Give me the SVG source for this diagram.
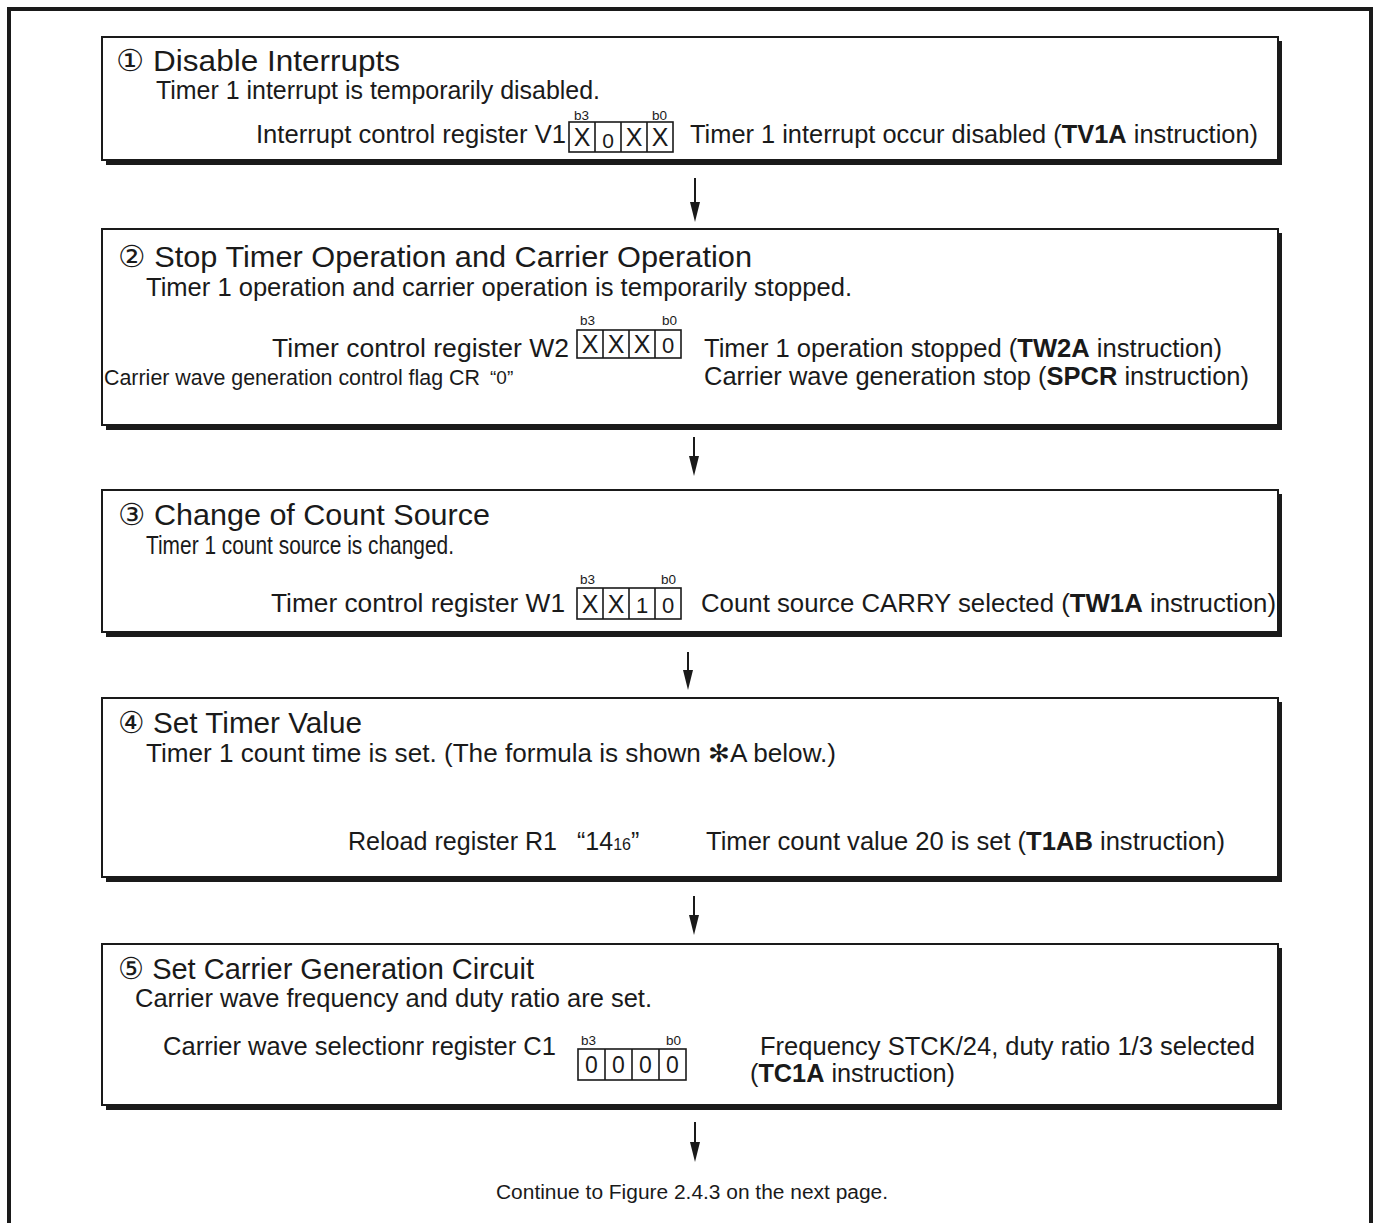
<svg xmlns="http://www.w3.org/2000/svg" width="1378" height="1223" viewBox="0 0 1378 1223">
<style>
text{font-family:"Liberation Sans",Arial,sans-serif;fill:#1a1a1a}
.t{font-size:30px}
.b{font-size:25px}
.s{font-size:13.5px}
.c{font-size:25px;text-anchor:middle}
.bold{font-weight:bold}
.box{fill:#fff;stroke:#1a1a1a;stroke-width:2}
.sh{fill:#1a1a1a}
.cell{fill:none;stroke:#1a1a1a;stroke-width:1.6}
.conn{stroke:#1a1a1a;stroke-width:2;fill:none}
</style>
<defs>
<marker id="ah" markerUnits="userSpaceOnUse" markerWidth="20" markerHeight="10" refX="16" refY="5" orient="auto">
<path d="M0,0 L20,5 L0,10 z" fill="#1a1a1a"/>
</marker>
</defs>
<path d="M9,1223 V9 H1371 V1223" fill="none" stroke="#1a1a1a" stroke-width="4"/>

<g id="step1">
<rect class="sh" x="106" y="41" width="1176" height="124"/>
<rect class="box" x="102" y="37" width="1176" height="123"/>
<text class="t" x="116" y="71" textLength="284" lengthAdjust="spacingAndGlyphs">① Disable Interrupts</text>
<text class="b" x="156" y="99" textLength="444" lengthAdjust="spacingAndGlyphs">Timer 1 interrupt is temporarily disabled.</text>
<text class="b" x="256" y="143" textLength="310" lengthAdjust="spacingAndGlyphs">Interrupt control register V1</text>
<text class="s" x="574" y="120">b3</text>
<text class="s" x="652" y="120">b0</text>
<rect class="cell" x="569" y="122" width="104" height="30"/>
<path class="cell" d="M595,122V152M621,122V152M647,122V152"/>
<text class="c" x="582" y="146">X</text>
<text class="c" x="608" y="148" style="font-size:21px">0</text>
<text class="c" x="634" y="146">X</text>
<text class="c" x="660" y="146">X</text>
<text class="b" x="690" y="143" textLength="568" lengthAdjust="spacingAndGlyphs">Timer 1 interrupt occur disabled (<tspan class="bold">TV1A</tspan> instruction)</text>
</g>

<g id="step2">
<rect class="sh" x="106" y="233" width="1176" height="197"/>
<rect class="box" x="102" y="229" width="1176" height="196"/>
<text class="t" x="118" y="267" textLength="634" lengthAdjust="spacingAndGlyphs">② Stop Timer Operation and Carrier Operation</text>
<text class="b" x="146" y="296" textLength="706" lengthAdjust="spacingAndGlyphs">Timer 1 operation and carrier operation is temporarily stopped.</text>
<text class="s" x="580" y="325">b3</text>
<text class="s" x="662" y="325">b0</text>
<rect class="cell" x="577" y="330" width="104" height="28"/>
<path class="cell" d="M603,330V358M629,330V358M655,330V358"/>
<text class="c" x="590" y="353">X</text>
<text class="c" x="616" y="353">X</text>
<text class="c" x="642" y="353">X</text>
<text class="c" x="668" y="353" style="font-size:22px">0</text>
<text class="b" x="272" y="357" textLength="297" lengthAdjust="spacingAndGlyphs">Timer control register W2</text>
<text x="104" y="385" style="font-size:21.3px" textLength="376" lengthAdjust="spacingAndGlyphs">Carrier wave generation control flag CR</text>
<text x="490" y="384" style="font-size:19px">“0”</text>
<text class="b" x="704" y="357" textLength="518" lengthAdjust="spacingAndGlyphs">Timer 1 operation stopped (<tspan class="bold">TW2A</tspan> instruction)</text>
<text class="b" x="704" y="385" textLength="545" lengthAdjust="spacingAndGlyphs">Carrier wave generation stop (<tspan class="bold">SPCR</tspan> instruction)</text>
</g>

<g id="step3">
<rect class="sh" x="106" y="494" width="1176" height="143"/>
<rect class="box" x="102" y="490" width="1176" height="142"/>
<text class="t" x="118" y="525" textLength="372" lengthAdjust="spacingAndGlyphs">③ Change of Count Source</text>
<text class="b" x="146" y="554" textLength="308" lengthAdjust="spacingAndGlyphs">Timer 1 count source is changed.</text>
<text class="s" x="580" y="584">b3</text>
<text class="s" x="661" y="584">b0</text>
<rect class="cell" x="577" y="588" width="104" height="31"/>
<path class="cell" d="M603,588V619M629,588V619M655,588V619"/>
<text class="c" x="590" y="613">X</text>
<text class="c" x="616" y="613">X</text>
<text class="c" x="642" y="613" style="font-size:22px">1</text>
<text class="c" x="668" y="613" style="font-size:22px">0</text>
<text class="b" x="271" y="612" textLength="294" lengthAdjust="spacingAndGlyphs">Timer control register W1</text>
<text class="b" x="701" y="612" textLength="575" lengthAdjust="spacingAndGlyphs">Count source CARRY selected (<tspan class="bold">TW1A</tspan> instruction)</text>
</g>

<g id="step4">
<rect class="sh" x="106" y="702" width="1176" height="180"/>
<rect class="box" x="102" y="698" width="1176" height="179"/>
<text class="t" x="118" y="733" textLength="244" lengthAdjust="spacingAndGlyphs">④ Set Timer Value</text>
<text class="b" x="146" y="762" textLength="690" lengthAdjust="spacingAndGlyphs">Timer 1 count time is set. (The formula is shown ✻A below.)</text>
<text class="b" x="348" y="850" textLength="209" lengthAdjust="spacingAndGlyphs">Reload register R1</text>
<text class="b" x="577" y="850">“14<tspan style="font-size:16px">16</tspan>”</text>
<text class="b" x="706" y="850" textLength="519" lengthAdjust="spacingAndGlyphs">Timer count value 20 is set (<tspan class="bold">T1AB</tspan> instruction)</text>
</g>

<g id="step5">
<rect class="sh" x="106" y="948" width="1176" height="162"/>
<rect class="box" x="102" y="944" width="1176" height="161"/>
<text class="t" x="118" y="979" textLength="416" lengthAdjust="spacingAndGlyphs">⑤ Set Carrier Generation Circuit</text>
<text class="b" x="135" y="1007" textLength="517" lengthAdjust="spacingAndGlyphs">Carrier wave frequency and duty ratio are set.</text>
<text class="b" x="163" y="1055" textLength="393" lengthAdjust="spacingAndGlyphs">Carrier wave selectionr register C1</text>
<text class="s" x="581" y="1045">b3</text>
<text class="s" x="666" y="1045">b0</text>
<rect class="cell" x="578" y="1049" width="108" height="31"/>
<path class="cell" d="M605,1049V1080M632,1049V1080M659,1049V1080"/>
<text class="c" x="591.5" y="1073" style="font-size:23px">0</text>
<text class="c" x="618.5" y="1073" style="font-size:23px">0</text>
<text class="c" x="645.5" y="1073" style="font-size:23px">0</text>
<text class="c" x="672.5" y="1073" style="font-size:23px">0</text>
<text class="b" x="760" y="1055" textLength="495" lengthAdjust="spacingAndGlyphs">Frequency STCK/24, duty ratio 1/3 selected</text>
<text class="b" x="750" y="1082" textLength="205" lengthAdjust="spacingAndGlyphs">(<tspan class="bold">TC1A</tspan> instruction)</text>
</g>

<g id="connectors">
<line class="conn" x1="695" y1="178" x2="695" y2="218" marker-end="url(#ah)"/>
<line class="conn" x1="694" y1="437" x2="694" y2="472" marker-end="url(#ah)"/>
<line class="conn" x1="688" y1="652" x2="688" y2="686" marker-end="url(#ah)"/>
<line class="conn" x1="694" y1="896" x2="694" y2="931" marker-end="url(#ah)"/>
<line class="conn" x1="695" y1="1122" x2="695" y2="1158" marker-end="url(#ah)"/>
</g>

<text x="496" y="1199" style="font-size:20px" textLength="392" lengthAdjust="spacingAndGlyphs">Continue to Figure 2.4.3 on the next page.</text>
</svg>
